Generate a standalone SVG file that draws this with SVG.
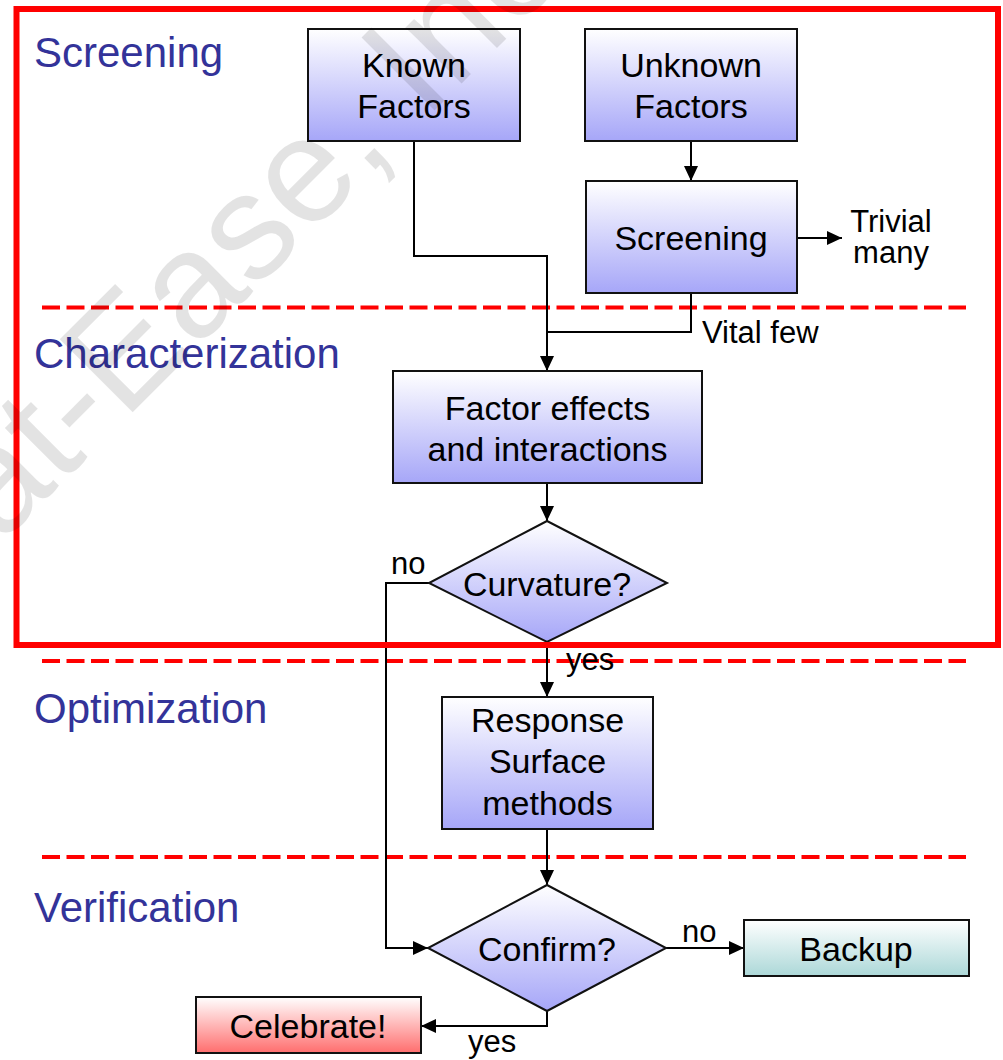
<svg xmlns="http://www.w3.org/2000/svg" width="1003" height="1060" viewBox="0 0 1003 1060">
  <style>
    .box { stroke: #111; stroke-width: 2; }
    .node-text { font-family: "Liberation Sans", Arial, sans-serif; font-size: 34px; fill: #000; text-anchor: middle; }
    .label { font-family: "Liberation Sans", Arial, sans-serif; font-size: 31px; fill: #000; }
    .stage { font-family: "Liberation Sans", Arial, sans-serif; font-size: 42px; fill: #333399; }
    .divider { stroke: #ff0000; stroke-width: 4; stroke-dasharray: 18 6.5; fill: none; }
    .conn { stroke: #000; stroke-width: 2; fill: none; }
    .arrow { marker-end: url(#head); }
  </style>
  <defs>
    <linearGradient id="blueFill" x1="0" y1="0" x2="0" y2="1">
      <stop offset="0" stop-color="#ffffff"/>
      <stop offset="1" stop-color="#a6a6f8"/>
    </linearGradient>
    <linearGradient id="tealFill" x1="0" y1="0" x2="0" y2="1">
      <stop offset="0" stop-color="#ffffff"/>
      <stop offset="1" stop-color="#acd8d8"/>
    </linearGradient>
    <linearGradient id="redFill" x1="0" y1="0" x2="0" y2="1">
      <stop offset="0" stop-color="#ffffff"/>
      <stop offset="1" stop-color="#ff6e6e"/>
    </linearGradient>
    <marker id="head" viewBox="0 0 15 14" refX="15" refY="7" markerWidth="15" markerHeight="14" markerUnits="userSpaceOnUse" orient="auto">
      <path d="M0,0 L15,7 L0,14 Z" fill="#000"/>
    </marker>
  </defs>

  <rect width="1003" height="1060" fill="#ffffff"/>

  <!-- stage dividers -->
  <g id="dividers">
    <line class="divider" x1="42" y1="307.5" x2="966" y2="307.5"/>
    <line class="divider" x1="42" y1="661" x2="966" y2="661"/>
    <line class="divider" x1="42" y1="857" x2="966" y2="857"/>
  </g>

  <!-- stage headings -->
  <g id="stages">
    <text class="stage" x="34" y="67">Screening</text>
    <text class="stage" x="34" y="368">Characterization</text>
    <text class="stage" x="34" y="723">Optimization</text>
    <text class="stage" x="34" y="922">Verification</text>
  </g>

  <!-- connectors -->
  <g id="connectors">
    <polyline class="conn arrow" points="414,141 414,256 547,256 547,371"/>
    <line class="conn arrow" x1="691" y1="141" x2="691" y2="181"/>
    <line class="conn arrow" x1="797" y1="238" x2="842" y2="238"/>
    <polyline class="conn" points="691,293 691,332 547,332"/>
    <line class="conn arrow" x1="547" y1="483" x2="547" y2="521"/>
    <polyline class="conn arrow" points="429,583 386,583 386,948 428,948"/>
    <line class="conn arrow" x1="547" y1="642" x2="547" y2="697"/>
    <line class="conn arrow" x1="547" y1="829" x2="547" y2="885"/>
    <line class="conn arrow" x1="666" y1="948" x2="744" y2="948"/>
    <polyline class="conn arrow" points="547,1011 547,1026 421,1026"/>
    <text class="label" x="891" y="232" text-anchor="middle">Trivial</text>
    <text class="label" x="891" y="263" text-anchor="middle">many</text>
    <text class="label" x="702" y="343">Vital few</text>
    <text class="label" x="391" y="574">no</text>
    <text class="label" x="566" y="670">yes</text>
    <text class="label" x="682" y="942">no</text>
    <text class="label" x="468" y="1052">yes</text>
  </g>

  <g id="known-factors">
    <rect class="box" x="308" y="29" width="212" height="112" fill="url(#blueFill)"/>
    <text class="node-text" x="414" y="77">Known</text>
    <text class="node-text" x="414" y="118">Factors</text>
  </g>

  <g id="unknown-factors">
    <rect class="box" x="585" y="29" width="212" height="112" fill="url(#blueFill)"/>
    <text class="node-text" x="691" y="77">Unknown</text>
    <text class="node-text" x="691" y="118">Factors</text>
  </g>

  <g id="screening">
    <rect class="box" x="586" y="181" width="211" height="112" fill="url(#blueFill)"/>
    <text class="node-text" x="691" y="250">Screening</text>
  </g>

  <g id="factor-effects">
    <rect class="box" x="393" y="371" width="309" height="112" fill="url(#blueFill)"/>
    <text class="node-text" x="547.5" y="420">Factor effects</text>
    <text class="node-text" x="547.5" y="461">and interactions</text>
  </g>

  <g id="curvature">
    <polygon class="box" points="547,521 667,583 547,642 429,583" fill="url(#blueFill)"/>
    <text class="node-text" x="547" y="596">Curvature?</text>
  </g>

  <g id="response-surface">
    <rect class="box" x="442" y="697" width="211" height="132" fill="url(#blueFill)"/>
    <text class="node-text" x="547.5" y="732">Response</text>
    <text class="node-text" x="547.5" y="773">Surface</text>
    <text class="node-text" x="547.5" y="815">methods</text>
  </g>

  <g id="confirm">
    <polygon class="box" points="547,885 666,948 547,1011 428,948" fill="url(#blueFill)"/>
    <text class="node-text" x="547" y="961">Confirm?</text>
  </g>

  <g id="backup">
    <rect class="box" x="744" y="920" width="225" height="56" fill="url(#tealFill)"/>
    <text class="node-text" x="856" y="961">Backup</text>
  </g>

  <g id="celebrate">
    <rect class="box" x="196" y="997" width="225" height="56" fill="url(#redFill)"/>
    <text class="node-text" x="308" y="1038">Celebrate!</text>
  </g>

  <!-- highlight frame around the first two stages -->
  <rect id="frame" x="16.5" y="9" width="981.5" height="636" fill="none" stroke="#ff0000" stroke-width="6"/>

  <!-- faint diagonal copyright mark -->
  <text x="-100" y="645" transform="rotate(-45 -100 645)" font-family="Liberation Sans, Arial, sans-serif" font-size="150" fill="#000" fill-opacity="0.11">Stat-Ease, Inc.</text>
</svg>
